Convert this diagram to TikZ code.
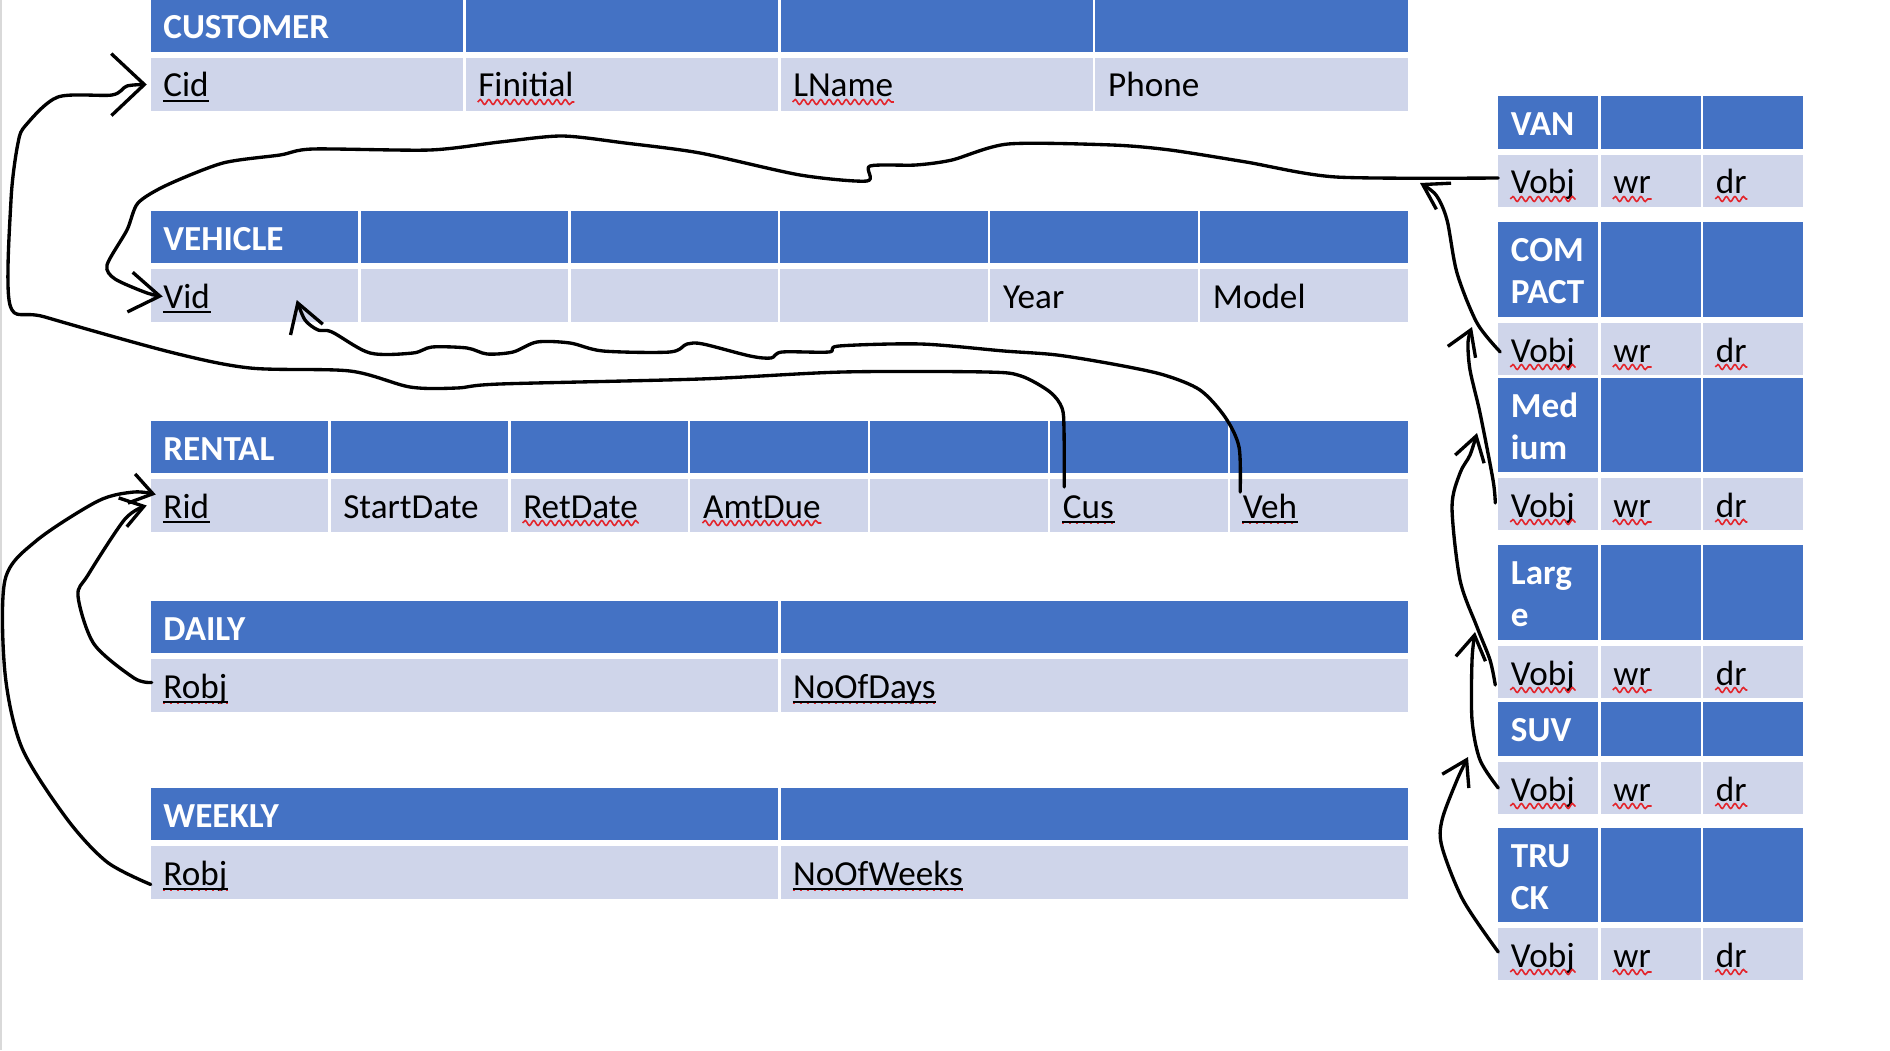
\documentclass[tikz,border=0pt]{standalone}
\usepackage{fontspec}
\setmainfont{Carlito}
\usetikzlibrary{arrows.meta, calc, decorations.pathmorphing, positioning}

\definecolor{hdblue}{HTML}{4472C4}
\definecolor{rowblue}{HTML}{CFD5EA}
\definecolor{spellred}{HTML}{E3242B}
\definecolor{edgegray}{HTML}{D9D9D9}

\tikzset{
  cell/.style 2 args={anchor=north west, inner sep=0pt, outer sep=0pt,
    minimum width={#1*0.1mm}, minimum height={#2*0.1mm}},
  hdcell/.style 2 args={cell={#1}{#2}, fill=hdblue},
  rowcell/.style 2 args={cell={#1}{#2}, fill=rowblue},
  hdtext/.style={anchor=base west, inner sep=0pt, text=white,
    font=\fontsize{10}{12}\selectfont\bfseries},
  rowtext/.style={anchor=base west, inner sep=0pt, text=black,
    font=\fontsize{10}{12}\selectfont},
  keyline/.style={draw=black, line width=0.7pt},
  spellwave/.style={draw=spellred, line width=0.45pt, decorate,
    decoration={snake, amplitude=0.25mm, segment length=0.85mm}},
  spelldots/.style={draw=spellred, line width=0.55pt, dash pattern=on 0.2mm off 0.5mm},
  hand/.style={draw=black, line width=0.95pt, line cap=round, line join=round},
}

\begin{document}
\begin{tikzpicture}[x=0.1mm, y=-0.1mm]
	\path[fill=white, use as bounding box] (0,0) rectangle (1890,1050);
	\fill[edgegray] (0,0) rectangle (2.5,1050);

	% CUSTOMER
	\foreach \i in {0,...,3} {
		\node[hdcell={312.4}{52}] (cust-h\i) at ({150.75+\i*314.9}, 0) {};
		\node[rowcell={312.4}{53}] (cust-r\i) at ({150.75+\i*314.9}, 58) {};
	}
	\node[hdtext] (cust-name) at ($(cust-h0.north west)+(12,39)$) {CUSTOMER};
	\foreach \i/\txt/\nm in {0/Cid/cid, 1/Finitial/finit, 2/LName/lname, 3/Phone/phone}
		\node[rowtext] (\nm) at ($(cust-r\i.north west)+(12,39)$) {\txt};

	% VEHICLE
	\foreach \i in {0,...,5} {
		\node[hdcell={207.4}{52}] (veh-h\i) at ({150.75+\i*209.9}, 211) {};
		\node[rowcell={207.4}{53}] (veh-r\i) at ({150.75+\i*209.9}, 269) {};
	}
	\node[hdtext] (veh-name) at ($(veh-h0.north west)+(12,39)$) {VEHICLE};
	\foreach \i/\txt/\nm in {0/Vid/vid, 4/Year/year, 5/Model/model}
		\node[rowtext] (\nm) at ($(veh-r\i.north west)+(12,39)$) {\txt};

	% RENTAL
	\foreach \i in {0,...,6} {
		\node[hdcell={177.4}{52}] (rent-h\i) at ({150.75+\i*179.9}, 421) {};
		\node[rowcell={177.4}{53}] (rent-r\i) at ({150.75+\i*179.9}, 479) {};
	}
	\node[hdtext] (rent-name) at ($(rent-h0.north west)+(12,39)$) {RENTAL};
	\foreach \i/\txt/\nm in {0/Rid/rid, 1/StartDate/startd, 2/RetDate/retd, 3/AmtDue/amtd, 5/Cus/cus, 6/Veh/veh}
		\node[rowtext] (\nm) at ($(rent-r\i.north west)+(12,39)$) {\txt};

	% DAILY and WEEKLY
	\foreach \t/\top/\hd/\nm/\cnt in {daily/601/DAILY/drobj/NoOfDays, weekly/788/WEEKLY/wrobj/NoOfWeeks} {
		\foreach \i in {0,1} {
			\node[hdcell={627.2}{52}] (\t-h\i) at ({150.75+\i*629.75}, \top) {};
			\node[rowcell={627.2}{53}] (\t-r\i) at ({150.75+\i*629.75}, {\top+58}) {};
		}
		\node[hdtext] (\t-name) at ($(\t-h0.north west)+(12,39)$) {\hd};
		\node[rowtext] (\nm) at ($(\t-r0.north west)+(12,39)$) {Robj};
		\node[rowtext] (\t-cnt) at ($(\t-r1.north west)+(12,39)$) {\cnt};
	}

	% vehicle kinds on the right
	\foreach \t/\top/\hh/\hd in {van/96/53/VAN, comp/222/95/COM, med/378/94/Med, large/545/95/Larg, suv/702/54/SUV, truck/828/94/TRU} {
		\foreach \i in {0,1,2} {
			\node[hdcell={100}{\hh}] (\t-h\i) at ({1498.25+\i*102.5}, \top) {};
			\node[rowcell={100}{52}] (\t-r\i) at ({1498.25+\i*102.5}, {\top+\hh+6}) {};
		}
		\node[hdtext] (\t-name) at ($(\t-h0.north west)+(12,39)$) {\hd};
		\foreach \i/\c/\txt in {0/v/Vobj, 1/w/wr, 2/d/dr}
			\node[rowtext] (\t-\c) at ($(\t-r\i.north west)+(12,39)$) {\txt};
	}
	\foreach \t/\txt in {comp/PACT, med/ium, large/e, truck/CK}
		\node[hdtext] (\t-name2) at ($(\t-name.base west)+(0,42)$) {\txt};

	% underlines
	\foreach \n in {cid, vid, rid}
		\draw[keyline] ([yshift=-0.4mm]\n.base west) -- ([yshift=-0.4mm]\n.base east);
	\foreach \n in {cus, veh, drobj, wrobj, daily-cnt, weekly-cnt} {
		\draw[keyline] ([yshift=-0.4mm]\n.base west) -- ([yshift=-0.4mm]\n.base east);
		\draw[spelldots] ([yshift=-0.55mm]\n.base west) -- ([yshift=-0.55mm]\n.base east);
	}
	\foreach \n in {finit, lname, retd, amtd}
		\draw[spellwave] ([yshift=-0.5mm]\n.base west) -- ([yshift=-0.5mm]\n.base east);
	\foreach \t in {van, comp, med, large, suv, truck}
		\foreach \c in {v, w, d}
			\draw[spellwave] ([yshift=-0.5mm]\t-\c.base west) -- ([yshift=-0.5mm]\t-\c.base east);

	% end points of the hand drawn links
	\coordinate (cus-out) at ($(rent-r5.north west)+(14,8)$);
	\coordinate (cid-in) at ($(cust-r0.west)+(-4,0)$);
	\coordinate (veh-out) at ($(rent-r6.north west)+(10,13)$);
	\coordinate (vid-tip) at ($(veh-r0.north west)+(146,31)$);
	\coordinate (van-out) at ($(van-r0.west)+(0,-3)$);
	\coordinate (vid-in) at ($(veh-r0.west)+(12,1)$);
	\coordinate (comp-out) at ($(comp-r0.west)+(2,3)$);
	\coordinate (med-out) at ($(med-r0.west)+(-3,-1)$);
	\coordinate (large-out) at ($(large-r0.west)+(-3,13)$);
	\coordinate (suv-out) at (suv-r0.west);
	\coordinate (truck-out) at ($(truck-r0.west)+(0,-2)$);
	\coordinate (drobj-out) at ($(daily-r0.west)+(1,-3)$);
	\coordinate (wrobj-out) at ($(weekly-r0.west)+(0,12)$);
	\coordinate (rid-in) at ($(rent-r0.west)+(-4,0)$);
	\coordinate (rid-in2) at ($(rent-r0.west)+(5,-11)$);
	\coordinate (van-join) at (1420,183);
	\coordinate (comp-join) at (1472,327);
	\coordinate (med-join) at (1477,433);
	\coordinate (large-join) at (1475,632);
	\coordinate (suv-join) at (1468,757);

	% Cus -> Cid
	\draw[hand, -{Straight Barb[length=3.3mm, width=6.2mm]}] plot[smooth, tension=0.5] coordinates {(cus-out) (1064,430) (1062,408) (1050,392) (1021,376) (986,372) (843,372) (700,379) (500,384) (457,388) (410,387) (350,371) (250,368) (170,352) (45,317) (10,305) (11,200) (18,143) (26,125) (58,97) (112,95) (127,86) (cid-in)};
	% Veh -> Vid
	\draw[hand, -{Straight Barb[length=2.8mm, width=3.4mm]}] plot[smooth, tension=0.5] coordinates {(veh-out) (1239,447) (1225,417) (1200,390) (1164,375) (1118,365) (1057,355) (1004,351) (921,344) (839,346) (829,352) (782,352) (771,358) (750,356) (703,344) (687,344) (670,352) (603,351) (570,343) (537,342) (513,352) (487,354) (467,348) (432,347) (413,353) (370,353) (332,332) (318,330) (305,320) (vid-tip)};
	% VAN Vobj -> Vid
	\draw[hand, -{Straight Barb[length=3mm, width=4mm]}] plot[smooth, tension=0.45] coordinates {(van-out) (1336,177) (1246,162) (1170,150) (1112,145) (1008,144) (952,160) (916,165) (870,166) (867,181) (800,175) (700,153) (625,143) (562,136) (500,142) (430,150) (313,149) (280,155) (223,163) (167,185) (138,203) (127,230) (107,265) (115,279) (147,293) (vid-in)};
	% chain of vehicle kinds
	\draw[hand, -{Straight Barb[length=2.4mm, width=3mm]}] plot[smooth, tension=0.5] coordinates {(comp-out) (1477,323) (1457,273) (1447,220) (1436,195) (van-join)};
	\draw[hand, -{Straight Barb[length=2.4mm, width=3mm]}] plot[smooth, tension=0.5] coordinates {(med-out) (1493,480) (1480,413) (1470,370) (1468,342) (comp-join)};
	\draw[hand, -{Straight Barb[length=2.4mm, width=3mm]}] plot[smooth, tension=0.5] coordinates {(large-out) (1490,660) (1477,627) (1460,580) (1452,507) (1460,473) (1470,455) (med-join)};
	\draw[hand, -{Straight Barb[length=2.4mm, width=3mm]}] plot[smooth, tension=0.5] coordinates {(suv-out) (1480,760) (1472,720) (1472,660) (large-join)};
	\draw[hand, -{Straight Barb[length=2.4mm, width=3mm]}] plot[smooth, tension=0.5] coordinates {(truck-out) (1463,900) (1442,847) (1442,820) (1457,780) (suv-join)};
	% DAILY and WEEKLY -> Rid
	\draw[hand, -{Straight Barb[length=2.2mm, width=3mm]}] plot[smooth, tension=0.5] coordinates {(drobj-out) (134,678) (94,644) (78,596) (88,575) (125,519) (rid-in)};
	\draw[hand, -{Straight Barb[length=2.2mm, width=3mm]}] plot[smooth, tension=0.5] coordinates {(wrobj-out) (107,862) (67,819) (22,748) (5,673) (5,580) (36,541) (98,501) (134,492) (rid-in2)};
\end{tikzpicture}
\end{document}
